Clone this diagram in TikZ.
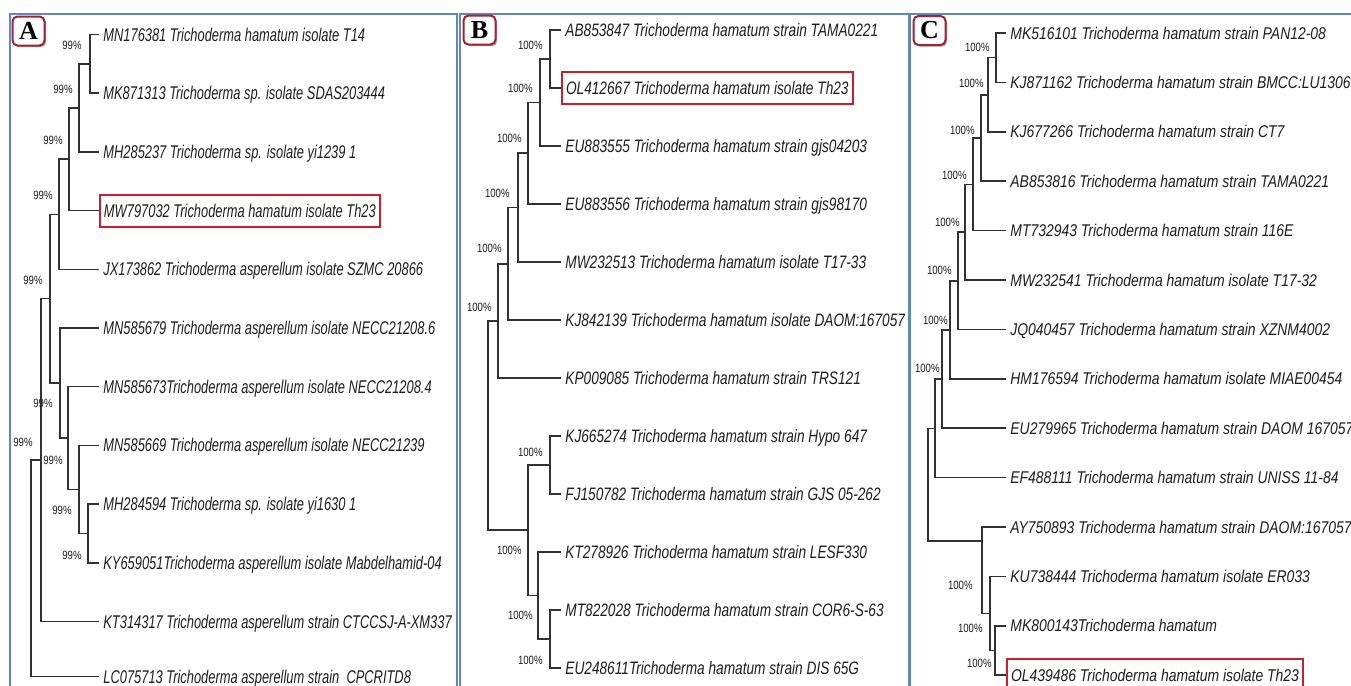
\documentclass[tikz,border=0pt]{standalone}
\usepackage{fontspec}
\setmainfont{Liberation Sans}
\newfontfamily\leafAfont[FakeStretch=0.70]{Liberation Sans}
\newfontfamily\leafBfont[FakeStretch=0.76]{Liberation Sans}
\newfontfamily\leafCfont[FakeStretch=0.82]{Liberation Sans}
\newfontfamily\pctfont[FakeStretch=0.80]{Liberation Sans}
\newfontfamily\panelfont{Liberation Serif}
\usetikzlibrary{shadows}
\definecolor{txt}{RGB}{30,30,30}
\definecolor{brc}{RGB}{50,50,50}
\definecolor{hlred}{RGB}{205,30,45}
\definecolor{boxred}{RGB}{165,35,45}
\definecolor{frameblue}{RGB}{95,135,195}
\tikzset{
  br/.style={draw=brc, line width=0.75pt},
  leaf/.style={anchor=west, inner xsep=2pt, inner ysep=0pt, text depth=0pt, text=txt},
  leafA/.style={leaf, text height=6.59pt, font=\fontsize{9.2}{10}\leafAfont\itshape},
  leafB/.style={leaf, text height=6.44pt, font=\fontsize{9}{10}\leafBfont\itshape},
  leafC/.style={leaf, text height=6.09pt, font=\fontsize{8.5}{10}\leafCfont\itshape},
  hl/.style={draw=hlred, line width=1pt, minimum height=16pt},
  pct/.style={anchor=east, inner sep=0pt, text=txt, font=\fontsize{6}{7}\pctfont},
  panelbox/.style={draw=boxred, line width=1pt, fill=white, rounded corners=2.5pt,
    minimum width=16pt, minimum height=14.5pt, inner sep=0pt,
    font=\fontsize{13}{14}\panelfont\bfseries, text=black,
    drop shadow={shadow xshift=0.8pt, shadow yshift=-0.8pt, opacity=0.35, fill=black}},
  frame/.style={draw=frameblue, line width=0.8pt}
}
\begin{document}
\begin{tikzpicture}[x=0.5pt, y=-0.5pt]
\useasboundingbox (0,0) rectangle (1351,686);
\clip (0,0) rectangle (1351,686);
\fill[white] (0,0) rectangle (1351,686);

% frames
\draw[frame] (10,14) rectangle (457,720);
\draw[frame] (460,14) rectangle (909,720);
\draw[frame] (910,14) rectangle (1420,720);

% ================= Panel A =================
\node[leafA] (a1) at (99,34.5) {MN176381 Trichoderma hamatum isolate T14};
\node[leafA] (a2) at (99,93.2) {MK871313 Trichoderma sp. isolate SDAS203444};
\node[leafA] (a3) at (99,151.9) {MH285237 Trichoderma sp. isolate yi1239 1};
\node[leafA,hl] (a4) at (99,210.6) {MW797032 Trichoderma hamatum isolate Th23};
\node[leafA] (a5) at (99,269.3) {JX173862 Trichoderma asperellum isolate SZMC 20866};
\node[leafA] (a6) at (99,328) {MN585679 Trichoderma asperellum isolate NECC21208.6};
\node[leafA] (a7) at (99,386.7) {MN585673Trichoderma asperellum isolate NECC21208.4};
\node[leafA] (a8) at (99,445.4) {MN585669 Trichoderma asperellum isolate NECC21239};
\node[leafA] (a9) at (99,504.1) {MH284594 Trichoderma sp. isolate yi1630 1};
\node[leafA] (a10) at (99,562.8) {KY659051Trichoderma asperellum isolate Mabdelhamid-04};
\node[leafA] (a11) at (99,621.5) {KT314317 Trichoderma asperellum strain CTCCSJ-A-XM337};
\node[leafA] (a12) at (99,676.5) {LC075713 Trichoderma asperellum strain\ \ CPCRITD8};

\coordinate (pA1) at (90,63.9);
\coordinate (pA2) at (79,107.9);
\coordinate (pA3) at (69,159.2);
\coordinate (pA4) at (59,214.3);
\coordinate (qA4) at (88,533.5);
\coordinate (qA3) at (79,489.4);
\coordinate (qA2) at (68,438);
\coordinate (qA1) at (60,383);
\coordinate (pA5) at (50,298.7);
\coordinate (pA6) at (41,460);
\coordinate (rA) at (31,568);

\draw[br] (pA1) |- (a1.west);
\draw[br] (pA1) |- (a2.west);
\draw[br] (pA2) |- (pA1);
\draw[br] (pA2) |- (a3.west);
\draw[br] (pA3) |- (pA2);
\draw[br] (pA3) |- (a4.west);
\draw[br] (pA4) |- (pA3);
\draw[br] (pA4) |- (a5.west);
\draw[br] (qA4) |- (a9.west);
\draw[br] (qA4) |- (a10.west);
\draw[br] (qA3) |- (a8.west);
\draw[br] (qA3) |- (qA4);
\draw[br] (qA2) |- (a7.west);
\draw[br] (qA2) |- (qA3);
\draw[br] (qA1) |- (a6.west);
\draw[br] (qA1) |- (qA2);
\draw[br] (pA5) |- (pA4);
\draw[br] (pA5) |- (qA1);
\draw[br] (pA6) |- (pA5);
\draw[br] (pA6) |- (a11.west);
\draw[br] (rA) |- (pA6);
\draw[br] (rA) |- (a12.west);

\node[pct] (lA1) at (82,45) {99\%};
\node[pct] (lA2) at (73,89) {99\%};
\node[pct] (lA3) at (63,140) {99\%};
\node[pct] (lA4) at (53,195) {99\%};
\node[pct] (lA5) at (43,280) {99\%};
\node[pct] (lA6) at (33,442) {99\%};
\node[pct] (lA7) at (53,403) {99\%};
\node[pct] (lA8) at (63,460) {99\%};
\node[pct] (lA9) at (72,510) {99\%};
\node[pct] (lA10) at (82,555) {99\%};

\node[panelbox] (panA) at (28.5,31) {A};

% ================= Panel B =================
\node[leafB] (b1) at (561,30) {AB853847 Trichoderma hamatum strain TAMA0221};
\node[leafB,hl] (b2) at (561,88) {OL412667 Trichoderma hamatum isolate Th23};
\node[leafB] (b3) at (561,146) {EU883555 Trichoderma hamatum strain gjs04203};
\node[leafB] (b4) at (561,204) {EU883556 Trichoderma hamatum strain gjs98170};
\node[leafB] (b5) at (561,262) {MW232513 Trichoderma hamatum isolate T17-33};
\node[leafB] (b6) at (561,320) {KJ842139 Trichoderma hamatum isolate DAOM:167057};
\node[leafB] (b7) at (561,378) {KP009085 Trichoderma hamatum strain TRS121};
\node[leafB] (b8) at (561,436) {KJ665274 Trichoderma hamatum strain Hypo 647};
\node[leafB] (b9) at (561,494) {FJ150782 Trichoderma hamatum strain GJS 05-262};
\node[leafB] (b10) at (561,552) {KT278926 Trichoderma hamatum strain LESF330};
\node[leafB] (b11) at (561,610) {MT822028 Trichoderma hamatum strain COR6-S-63};
\node[leafB] (b12) at (561,668) {EU248611Trichoderma hamatum strain DIS 65G};

\coordinate (nB1) at (550,59);
\coordinate (nB2) at (540,102.5);
\coordinate (nB3) at (528,153.2);
\coordinate (nB4) at (518,207.6);
\coordinate (nB5) at (508,263.8);
\coordinate (nB6) at (498,320.9);
\coordinate (mB1) at (550,465);
\coordinate (mB3) at (550,639);
\coordinate (mB2) at (538,595.5);
\coordinate (mB0) at (528,530.2);
\coordinate (rB) at (488,425.6);

\draw[br] (nB1) |- (b1.west);
\draw[br] (nB1) |- (b2.west);
\draw[br] (nB2) |- (nB1);
\draw[br] (nB2) |- (b3.west);
\draw[br] (nB3) |- (nB2);
\draw[br] (nB3) |- (b4.west);
\draw[br] (nB4) |- (nB3);
\draw[br] (nB4) |- (b5.west);
\draw[br] (nB5) |- (nB4);
\draw[br] (nB5) |- (b6.west);
\draw[br] (nB6) |- (nB5);
\draw[br] (nB6) |- (b7.west);
\draw[br] (mB1) |- (b8.west);
\draw[br] (mB1) |- (b9.west);
\draw[br] (mB3) |- (b11.west);
\draw[br] (mB3) |- (b12.west);
\draw[br] (mB2) |- (b10.west);
\draw[br] (mB2) |- (mB3);
\draw[br] (mB0) |- (mB1);
\draw[br] (mB0) |- (mB2);
\draw[br] (rB) |- (nB6);
\draw[br] (rB) |- (mB0);

\node[pct] (lB1) at (543,45) {100\%};
\node[pct] (lB2) at (533,88) {100\%};
\node[pct] (lB3) at (522,138) {100\%};
\node[pct] (lB4) at (510,193) {100\%};
\node[pct] (lB5) at (502,248) {100\%};
\node[pct] (lB6) at (492,307) {100\%};
\node[pct] (lB7) at (543,452) {100\%};
\node[pct] (lB8) at (522,550) {100\%};
\node[pct] (lB9) at (533,615) {100\%};
\node[pct] (lB10) at (543,660) {100\%};

\node[panelbox] (panB) at (479.5,30) {B};

% ================= Panel C =================
\node[leafC] (c1) at (1006,33) {MK516101 Trichoderma hamatum strain PAN12-08};
\node[leafC] (c2) at (1006,82.4) {KJ871162 Trichoderma hamatum strain BMCC:LU1306};
\node[leafC] (c3) at (1006,131.8) {KJ677266 Trichoderma hamatum strain CT7};
\node[leafC] (c4) at (1006,181.2) {AB853816 Trichoderma hamatum strain TAMA0221};
\node[leafC] (c5) at (1006,230.6) {MT732943 Trichoderma hamatum strain 116E};
\node[leafC] (c6) at (1006,280) {MW232541 Trichoderma hamatum isolate T17-32};
\node[leafC] (c7) at (1006,329.4) {JQ040457 Trichoderma hamatum strain XZNM4002};
\node[leafC] (c8) at (1006,378.8) {HM176594 Trichoderma hamatum isolate MIAE00454};
\node[leafC] (c9) at (1006,428.2) {EU279965 Trichoderma hamatum strain DAOM 167057};
\node[leafC] (c10) at (1006,477.6) {EF488111 Trichoderma hamatum strain UNISS 11-84};
\node[leafC] (c11) at (1006,527) {AY750893 Trichoderma hamatum strain DAOM:167057};
\node[leafC] (c12) at (1006,576.4) {KU738444 Trichoderma hamatum isolate ER033};
\node[leafC] (c13) at (1006,625.8) {MK800143Trichoderma hamatum};
\node[leafC,hl] (c14) at (1006,675.2) {OL439486 Trichoderma hamatum isolate Th23};

\coordinate (nC1) at (996,57.7);
\coordinate (nC2) at (988,94.8);
\coordinate (nC3) at (981,138);
\coordinate (nC4) at (973,184.3);
\coordinate (nC5) at (965,232.2);
\coordinate (nC6) at (958,280.8);
\coordinate (nC7) at (950,329.8);
\coordinate (nC8) at (942,379);
\coordinate (nC9) at (935,428.3);
\coordinate (dC2) at (995,650.5);
\coordinate (dC1) at (990,613.5);
\coordinate (dC0) at (982,541);
\coordinate (rC) at (928,485);

\draw[br] (nC1) |- (c1.west);
\draw[br] (nC1) |- (c2.west);
\draw[br] (nC2) |- (nC1);
\draw[br] (nC2) |- (c3.west);
\draw[br] (nC3) |- (nC2);
\draw[br] (nC3) |- (c4.west);
\draw[br] (nC4) |- (nC3);
\draw[br] (nC4) |- (c5.west);
\draw[br] (nC5) |- (nC4);
\draw[br] (nC5) |- (c6.west);
\draw[br] (nC6) |- (nC5);
\draw[br] (nC6) |- (c7.west);
\draw[br] (nC7) |- (nC6);
\draw[br] (nC7) |- (c8.west);
\draw[br] (nC8) |- (nC7);
\draw[br] (nC8) |- (c9.west);
\draw[br] (nC9) |- (nC8);
\draw[br] (nC9) |- (c10.west);
\draw[br] (dC2) |- (c13.west);
\draw[br] (dC2) |- (c14.west);
\draw[br] (dC1) |- (c12.west);
\draw[br] (dC1) |- (dC2);
\draw[br] (dC0) |- (c11.west);
\draw[br] (dC0) |- (dC1);
\draw[br] (rC) |- (nC9);
\draw[br] (rC) |- (dC0);

\node[pct] (lC1) at (990,47) {100\%};
\node[pct] (lC2) at (984,83) {100\%};
\node[pct] (lC3) at (975,130) {100\%};
\node[pct] (lC4) at (967,175) {100\%};
\node[pct] (lC5) at (960,222) {100\%};
\node[pct] (lC6) at (952,270) {100\%};
\node[pct] (lC7) at (948,320) {100\%};
\node[pct] (lC8) at (940,368) {100\%};
\node[pct] (lC9) at (973,585) {100\%};
\node[pct] (lC10) at (983,628) {100\%};
\node[pct] (lC11) at (992,663) {100\%};

\node[panelbox] (panC) at (929.5,30.5) {C};
\end{tikzpicture}
\end{document}
